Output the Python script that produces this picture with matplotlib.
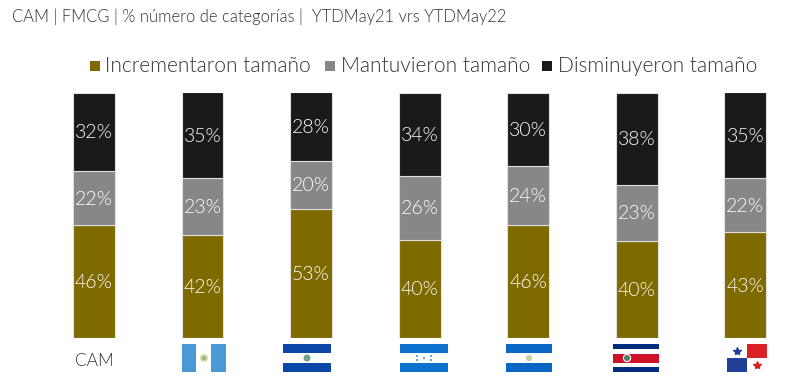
import numpy as np
import matplotlib
matplotlib.use("Agg")
import matplotlib.pyplot as plt
from matplotlib import font_manager as fm
from matplotlib.patches import Rectangle, Circle

# Lato's named "light" weight resolves to the hairline cut, so pick the file itself
light = [f for f in fm.findSystemFonts() if f.endswith('Lato-Light.ttf')]
if light:
    fm.fontManager.addfont(light[0])
    font_kw = {'fontproperties': fm.FontProperties(fname=light[0])}
else:
    plt.rcParams['font.family'] = ['Lato', 'DejaVu Sans']
    font_kw = {}

# values
paises = ['CAM', 'GT', 'SV', 'HN', 'NI', 'CR', 'PA']
incrementaron = [46, 42, 53, 40, 46, 40, 43]
mantuvieron = [22, 23, 20, 26, 24, 23, 22]
disminuyeron = [32, 35, 28, 34, 30, 38, 35]
series_names = ['Incrementaron tamaño', 'Mantuvieron tamaño', 'Disminuyeron tamaño']
colors = ['#7F6A00', '#878787', '#1A1A1A']
title = 'CAM | FMCG | % número de categorías |  YTDMay21 vrs YTDMay22'

W, H = 800, 391
fig = plt.figure(figsize=(W / 100, H / 100), dpi=100)


def label(axis, px, py, s, size, col, ha='left'):
    t = axis.text(px, py, s, color=col, ha=ha, va='center', **font_kw)
    t.set_fontsize(size)
    return t


# bar axes, placed in pixels
ax = fig.add_axes([39.6 / W, (H - 338) / H, 760 / W, 245.5 / H])
x = np.arange(len(paises))
total = np.array(incrementaron) + np.array(mantuvieron) + np.array(disminuyeron)
bottom = np.zeros(len(paises))
for vals, col in zip([incrementaron, mantuvieron, disminuyeron], colors):
    vals = np.array(vals)
    share = vals / total * 100  # a few columns add up to 101
    ax.bar(x, share, 0.386, bottom=bottom, color=col, edgecolor='#E0E0E0', linewidth=0.8)
    for i in range(len(x)):
        label(ax, x[i], bottom[i] + share[i] / 2 - 0.4, f'{vals[i]}%', 14, 'white', ha='center')
    bottom += share
ax.set_xlim(-0.5, 6.5)
ax.set_ylim(0, 100)
ax.axis('off')

# overlay in pixel coords for title, legend and flags
ov = fig.add_axes([0, 0, 1, 1])
ov.set_xlim(0, W)
ov.set_ylim(H, 0)
ov.axis('off')

label(ov, 12, 17, title, 11.9, '#333333')

legend_x = [(90, 105), (325, 341), (542, 558)]
for (sq, tx), name, col in zip(legend_x, series_names, colors):
    ov.add_patch(Rectangle((sq, 61), 10, 10, color=col, lw=0))
    label(ov, tx, 66, name, 15, '#333333')

label(ov, 94, 361, paises[0], 12.5, '#333333', ha='center')


def rect(x0, y0, w, h, col):
    ov.add_patch(Rectangle((x0, y0), w, h, color=col, lw=0))


# flags
rect(182, 344, 14, 28, '#4A98D6')
rect(211, 344, 15, 28, '#4A98D6')
ov.add_patch(Circle((204, 358), 4, color='#D8D8A0', lw=0))
ov.add_patch(Circle((204, 358), 2, color='#8FB58F', lw=0))

rect(283, 344, 48, 9, '#0A47A9')
rect(283, 363, 48, 9, '#0A47A9')
ov.add_patch(Circle((307, 358), 3.5, color='#6FA58A', lw=0))

rect(400, 344, 48, 9, '#0A72CC')
rect(400, 363, 48, 9, '#0A72CC')
for px, py in [(417, 356), (417, 360), (424, 358), (431, 356), (431, 360)]:
    ov.add_patch(Circle((px, py), 0.9, color='#0A72CC', lw=0))

rect(506, 344, 46, 9, '#0A68C4')
rect(506, 363, 46, 9, '#0A68C4')
ov.add_patch(Circle((529, 358), 3.2, color='#C4D6A0', lw=0))

rect(613, 344, 46, 5, '#002B7F')
rect(613, 353.5, 46, 9.5, '#CE1126')
rect(613, 367, 46, 5, '#002B7F')
ov.add_patch(Circle((627, 358), 3.6, color='#4E7F66', ec='white', lw=0.8))

rect(747, 344, 20, 14, '#DA2128')
rect(727, 358, 20, 14, '#21409A')
ov.plot([737], [351], marker='*', ms=6, color='#21409A', lw=0)
ov.plot([757], [365], marker='*', ms=6, color='#DA2128', lw=0)

fig.savefig('out.png', dpi=100)
